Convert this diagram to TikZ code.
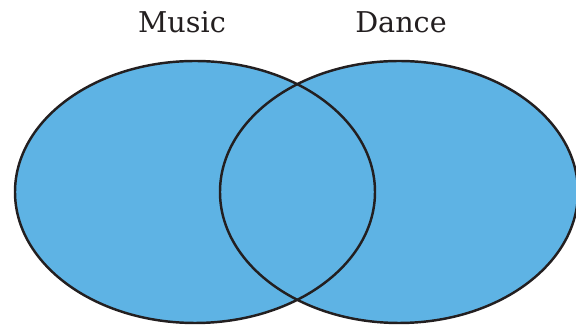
\documentclass[tikz,border=0pt]{standalone}
\usepackage{fontspec}
\setmainfont{DejaVu Serif}
\usepackage{xcolor}
\usetikzlibrary{positioning}
\definecolor{SetBlue}{HTML}{5EB3E4}
\definecolor{InkDark}{HTML}{231F20}

\begin{document}
\begin{tikzpicture}[x=0.02cm, y=-0.02cm,
    setline/.style={draw=InkDark, line width=1.4pt},
    setlabel/.style={anchor=base, inner sep=0pt, text=InkDark,
      font=\fontsize{16.3}{19}\selectfont}]
  \useasboundingbox (0,0) rectangle (576,327);
  % centres of the two sets
  \coordinate (musicc) at (195,192);
  \coordinate (dancec) at (399,192);
  % fills first, outlines on top so both rims show
  \fill[SetBlue] (musicc) ellipse [x radius=180, y radius=131];
  \fill[SetBlue] (dancec) ellipse [x radius=179, y radius=131];
  \draw[setline] (musicc) ellipse [x radius=180, y radius=131];
  \draw[setline] (dancec) ellipse [x radius=179, y radius=131];
  \node[setlabel] (music) at (182,33) {Music};
  \node[setlabel] (dance) at (401,33) {Dance};
\end{tikzpicture}
\end{document}
